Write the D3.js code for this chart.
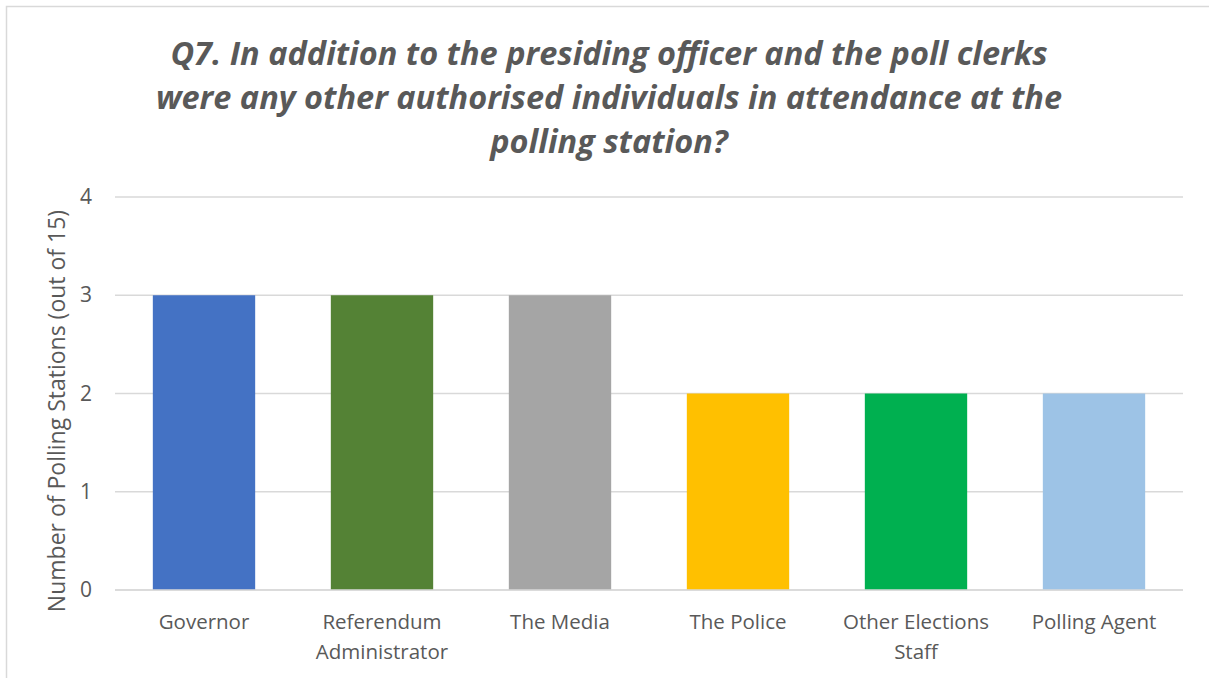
<!DOCTYPE html>
<html>
<head>
<meta charset="utf-8">
<script src="https://cdn.jsdelivr.net/npm/d3@7"></script>
<style>
  html, body { margin: 0; padding: 0; background: #fff; }
  svg { display: block; }
  text { font-family: "Open Sans", "Noto Sans", sans-serif; fill: #595959; }
</style>
</head>
<body>
<svg id="chart" width="1209" height="678"></svg>
<script>
// Survey responses: authorised individuals present at polling stations
const categories = [
  ["Governor"],
  ["Referendum", "Administrator"],
  ["The Media"],
  ["The Police"],
  ["Other Elections", "Staff"],
  ["Polling Agent"]
];
const values = [3, 3, 3, 2, 2, 2];
const barColors = ["#4472C4", "#548235", "#A5A5A5", "#FFC000", "#00B050", "#9DC3E6"];
const yTicks = [0, 1, 2, 3, 4];
const titleLines = [
  "Q7. In addition to the presiding officer and the poll clerks",
  "were any other authorised individuals in attendance at the",
  "polling station?"
];
const yAxisTitle = "Number of Polling Stations (out of 15)";

const svg = d3.select("#chart");
const W = 1209, H = 678;
const margin = { top: 197, right: 26, bottom: 88, left: 115 };
const plotW = W - margin.left - margin.right;
const plotH = H - margin.top - margin.bottom;

// chart area frame (left and top edges fall inside the window)
svg.append("rect")
  .attr("x", 6.5).attr("y", 6.5)
  .attr("width", W + 10).attr("height", H + 10)
  .attr("fill", "#fff").attr("stroke", "#d9d9d9").attr("stroke-width", 1.5);

const g = svg.append("g").attr("transform", `translate(${margin.left},${margin.top})`);

const x = d3.scaleBand()
  .domain(d3.range(categories.length))
  .range([0, plotW])
  .paddingInner(0.425)
  .paddingOuter(0.2125);

const y = d3.scaleLinear().domain([0, 4]).range([plotH, 0]);

// horizontal gridlines
g.append("g")
  .selectAll("line")
  .data(yTicks)
  .join("line")
  .attr("x1", 0).attr("x2", plotW)
  .attr("y1", d => y(d)).attr("y2", d => y(d))
  .attr("stroke", "#d9d9d9").attr("stroke-width", 1.3);

// bars
g.append("g")
  .selectAll("rect")
  .data(values)
  .join("rect")
  .attr("x", (d, i) => x(i))
  .attr("width", x.bandwidth())
  .attr("y", d => y(d))
  .attr("height", d => y(0) - y(d))
  .attr("fill", (d, i) => barColors[i]);

// baseline over bars
g.append("line")
  .attr("x1", 0).attr("x2", plotW)
  .attr("y1", y(0)).attr("y2", y(0))
  .attr("stroke", "#d9d9d9").attr("stroke-width", 1.5);

// y axis tick labels
const yAxis = d3.axisLeft(y).tickValues(yTicks).tickSize(0).tickPadding(23).tickFormat(d3.format("d"));
const ya = g.append("g").call(yAxis);
ya.select(".domain").remove();
ya.selectAll("text").attr("font-size", 21).style("fill", "#595959")
  .style("font-family", "'Open Sans', sans-serif");

// x axis category labels
const xa = g.append("g").attr("transform", `translate(0,${plotH})`);
categories.forEach((lines, i) => {
  const t = xa.append("text")
    .attr("x", x(i) + x.bandwidth() / 2)
    .attr("y", 39)
    .attr("text-anchor", "middle")
    .attr("font-size", 20.5);
  lines.forEach((ln, j) => {
    t.append("tspan").attr("x", x(i) + x.bandwidth() / 2).attr("dy", j === 0 ? 0 : 30).text(ln);
  });
});

// y axis title
svg.append("text")
  .attr("transform", `translate(65,${margin.top + 214}) rotate(-90)`)
  .attr("text-anchor", "middle")
  .attr("font-size", 23)
  .text(yAxisTitle);

// chart title
const title = svg.append("text")
  .attr("text-anchor", "middle")
  .attr("font-size", 32.5)
  .attr("font-weight", "bold")
  .attr("font-style", "italic");
titleLines.forEach((ln, j) => {
  title.append("tspan").attr("x", 609).attr("y", 65 + j * 44).text(ln);
});
</script>
</body>
</html>
